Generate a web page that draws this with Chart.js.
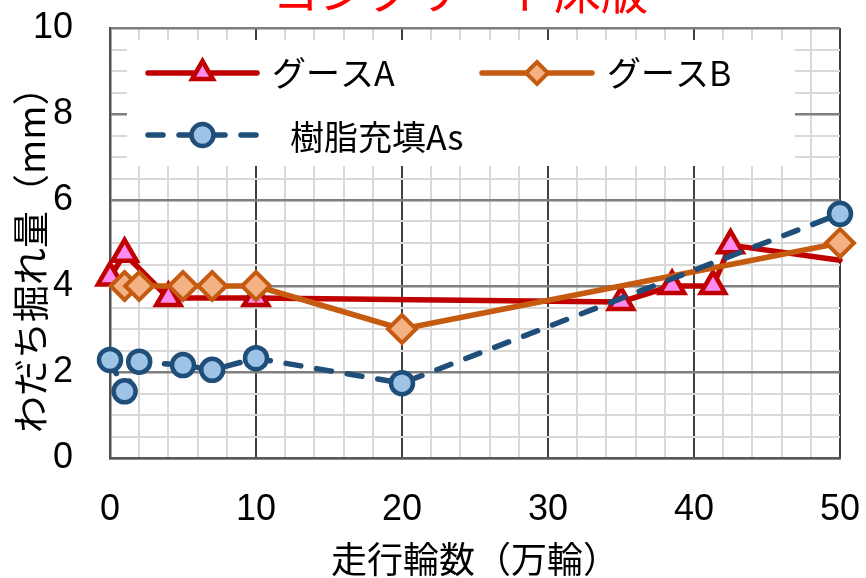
<!DOCTYPE html>
<html lang="ja">
<head>
<meta charset="utf-8">
<title>わだち掘れ量</title>
<script src="https://cdn.jsdelivr.net/npm/chart.js@4.4.1/dist/chart.umd.min.js"></script>
<style>
  html, body { margin: 0; padding: 0; background: #ffffff; }
  #wrap { position: relative; width: 866px; height: 578px; overflow: hidden; }
  canvas { display: block; }
</style>
</head>
<body>
<div id="wrap"><canvas id="chart" width="866" height="578"></canvas></div>
<script>
// ---- data ----
const chartTitle = 'コンクリート床版';
const xAxisTitle = '走行輪数（万輪）';
const yAxisTitle = 'わだち掘れ量（mm）';
const seriesNames = ['グースA', 'グースB', '樹脂充填As'];

const gooseAX = [0, 1, 4, 10, 35, 38.5, 41.3, 42.5, 50];
const gooseAY = [4.2, 4.75, 3.72, 3.72, 3.63, 4.0, 4.0, 4.95, 4.6];

const gooseBX = [1, 2, 5, 7, 10, 20, 50];
const gooseBY = [4.0, 4.0, 4.0, 4.0, 4.0, 3.0, 5.0];

const resinX = [0, 1, 2, 5, 7, 10, 20, 50];
const resinY = [2.28, 1.55, 2.24, 2.16, 2.05, 2.32, 1.74, 5.68];

const xTickLabels = [0, 10, 20, 30, 40, 50];
const yTickLabels = [0, 2, 4, 6, 8, 10];

// ---- styles ----
const RED = '#C00000', PINK = '#FF8AF0';
const ORANGE = '#C55A11', PEACH = '#F4B183';
const NAVY = '#1F4E79', SKY = '#9DC3E6';
const NUM_FONT = '"Liberation Sans", Arial, sans-serif';
const JP_FONT = '"Noto Sans CJK JP", "Noto Sans", sans-serif';

const pairs = (xs, ys) => xs.map((x, i) => ({ x: x, y: ys[i] }));

const datasets = [
  {
    label: seriesNames[0],
    data: pairs(gooseAX, gooseAY),
    borderColor: RED, borderWidth: 5.5, borderJoinStyle: 'round', borderCapStyle: 'round',
    pointStyle: 'triangle',
    // the final reading is plotted without a marker
    pointRadius: gooseAX.map((_, i) => (i === gooseAX.length - 1 ? 0 : 14)),
    pointBorderWidth: 4.5, pointBorderColor: RED, pointBackgroundColor: PINK,
    order: 3, clip: false, tension: 0
  },
  {
    label: seriesNames[1],
    data: pairs(gooseBX, gooseBY),
    borderColor: ORANGE, borderWidth: 5.5, borderJoinStyle: 'round', borderCapStyle: 'round',
    pointStyle: 'rectRot', pointRadius: 14,
    pointBorderWidth: 4, pointBorderColor: ORANGE, pointBackgroundColor: PEACH,
    order: 2, clip: false, tension: 0
  },
  {
    label: seriesNames[2],
    data: pairs(resinX, resinY),
    borderColor: NAVY, borderWidth: 5.5, borderDash: [15, 16], borderCapStyle: 'round',
    pointStyle: 'circle', pointRadius: 11,
    pointBorderWidth: 4.5, pointBorderColor: NAVY, pointBackgroundColor: SKY,
    order: 1, clip: false, tension: 0
  }
];

// legend entries drawn as a white box over the upper part of the plot
const legendItems = [
  { ds: 0, line: [148, 257], y: 73, textX: 272, textY: 73, r: 12 },
  { ds: 1, line: [482, 592], y: 73, textX: 607, textY: 73, r: 11 },
  { ds: 2, line: [148, 257], y: 135, textX: 290, textY: 137, r: 11 }
];

const overlayText = {
  id: 'overlayText',
  afterDraw(chart) {
    const ctx = chart.ctx;
    ctx.save();
    // chart title, running off the top edge
    ctx.fillStyle = '#FF0000';
    ctx.font = '47px ' + JP_FONT;
    ctx.textAlign = 'center';
    ctx.textBaseline = 'alphabetic';
    ctx.fillText(chartTitle, 460, 9);

    // vertical axis title
    ctx.save();
    ctx.translate(31, 433);
    ctx.rotate(-Math.PI / 2);
    ctx.fillStyle = '#000000';
    ctx.font = '37px ' + JP_FONT;
    ctx.textAlign = 'left';
    ctx.textBaseline = 'middle';
    ctx.fillText(yAxisTitle, 0, 0);
    ctx.restore();

    // legend
    ctx.fillStyle = '#ffffff';
    ctx.fillRect(127, 40, 668, 126);
    legendItems.forEach(item => {
      const ds = chart.data.datasets[item.ds];
      ctx.save();
      ctx.strokeStyle = ds.borderColor;
      ctx.lineWidth = ds.borderWidth;
      ctx.lineCap = 'round';
      ctx.setLineDash(ds.borderDash || []);
      ctx.beginPath();
      ctx.moveTo(item.line[0], item.y);
      ctx.lineTo(item.line[1], item.y);
      ctx.stroke();
      ctx.restore();
      ctx.save();
      ctx.fillStyle = ds.pointBackgroundColor;
      ctx.strokeStyle = ds.pointBorderColor;
      ctx.lineWidth = ds.pointBorderWidth;
      Chart.helpers.drawPoint(ctx, {
        pointStyle: ds.pointStyle, radius: item.r, rotation: 0, borderWidth: ds.pointBorderWidth
      }, (item.line[0] + item.line[1]) / 2, item.y);
      ctx.restore();
      ctx.fillStyle = '#000000';
      ctx.font = '34px ' + JP_FONT;
      ctx.textAlign = 'left';
      ctx.textBaseline = 'middle';
      ctx.fillText(ds.label, item.textX, item.textY);
    });
    ctx.restore();
  }
};

// fixed axis boxes; label overflow is covered by the layout padding
const zeroPad = s => { s.paddingTop = 0; s.paddingBottom = 0; s.paddingLeft = 0; s.paddingRight = 0; };

new Chart(document.getElementById('chart'), {
  type: 'line',
  data: { datasets: datasets },
  plugins: [overlayText],
  options: {
    responsive: false,
    animation: false,
    devicePixelRatio: 1,
    layout: { padding: { top: 28, right: 26, left: 0, bottom: 0 } },
    plugins: { legend: { display: false }, tooltip: { enabled: false }, title: { display: false } },
    scales: {
      x: {
        type: 'linear', min: 0, max: 50,
        afterFit: s => { s.height = 120; zeroPad(s); },
        border: { display: true, color: '#595959', width: 2.5 },
        grid: {
          drawTicks: false,
          color: c => (c.tick.value % 10 === 0 ? '#404040' : '#D9D9D9'),
          lineWidth: 2
        },
        ticks: {
          stepSize: 2, autoSkip: false, maxRotation: 0, padding: 30,
          color: '#000000', font: { family: NUM_FONT, size: 36 },
          callback: v => (xTickLabels.includes(v) ? String(v) : '')
        },
        title: {
          display: true, text: xAxisTitle, color: '#000000',
          font: { family: JP_FONT, size: 36, lineHeight: 1 },
          padding: { top: 0, bottom: 1 }
        }
      },
      y: {
        type: 'linear', min: 0, max: 10,
        afterFit: s => { s.width = 110; zeroPad(s); },
        border: { display: true, color: '#505050', width: 2.5 },
        grid: {
          drawTicks: false,
          color: c => (c.tick.value % 2 === 0 ? '#7F7F7F' : '#D9D9D9'),
          lineWidth: c => (c.tick.value % 2 === 0 ? 2.5 : 2)
        },
        ticks: {
          stepSize: 0.5, autoSkip: false, padding: 37,
          color: '#000000', font: { family: NUM_FONT, size: 36 },
          callback: v => (yTickLabels.includes(v) ? String(v) : '')
        }
      }
    }
  }
});
</script>
</body>
</html>
